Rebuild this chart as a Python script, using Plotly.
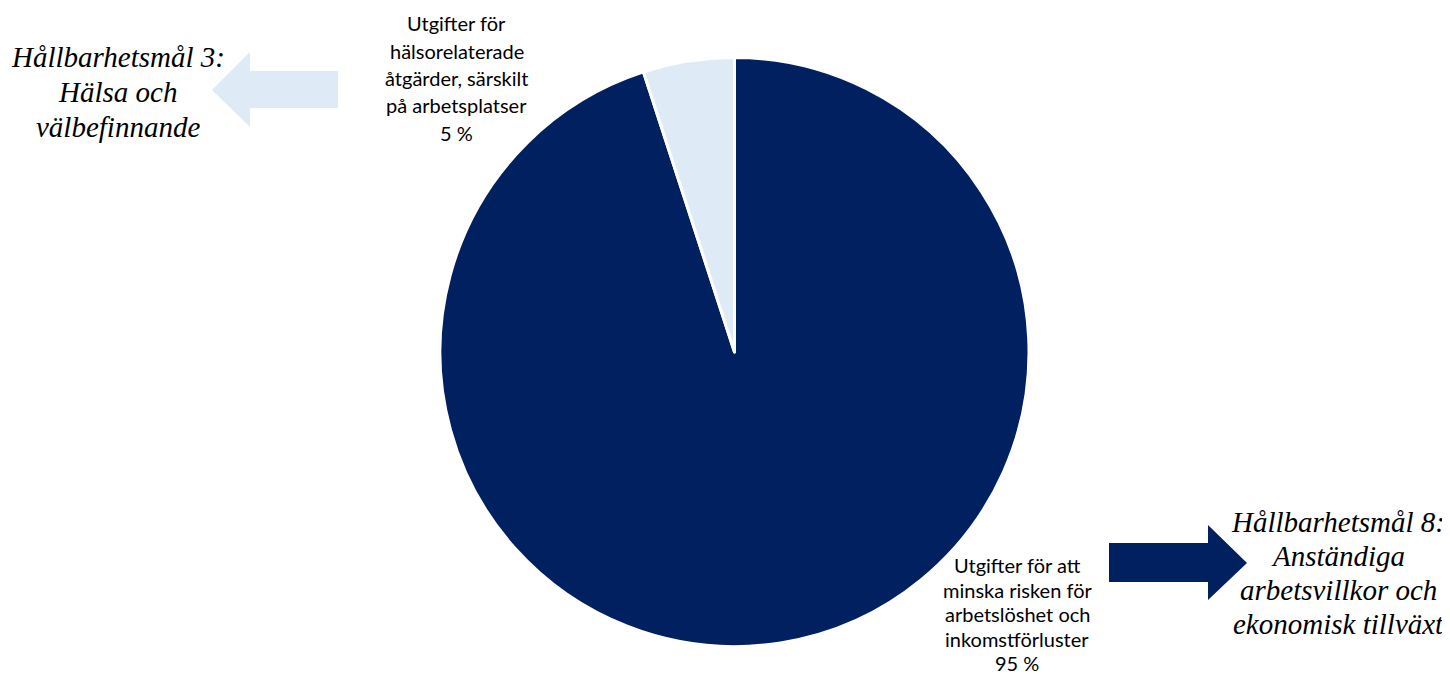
import plotly.graph_objects as go

W, H = 1450, 677
OFF = 8  # default page body margin
FW, FH = W - OFF, H - OFF

# data (navy slice listed first so that, drawn clockwise from 12 o'clock,
# the small light slice ends up just left of 12 o'clock as in the reference)
categories = [
    "Utgifter för att<br>minska risken för<br>arbetslöshet och<br>inkomstförluster",
    "Utgifter för<br>hälsorelaterade<br>åtgärder, särskilt<br>på arbetsplatser",
]
values = [95, 5]
colors = ["#002060", "#DEEAF6"]
goals = [
    "Hållbarhetsmål 8:<br>Anständiga<br>arbetsvillkor och<br>ekonomisk tillväxt",
    "Hållbarhetsmål 3:<br>Hälsa och<br>välbefinnande",
]


def px(x):
    return (x - OFF) / FW


def py(y):
    return 1 - (y - OFF) / FH


fig = go.Figure(
    go.Pie(
        labels=categories,
        values=values,
        sort=False,
        direction="clockwise",
        rotation=0,
        marker=dict(colors=colors, line=dict(color="white", width=3)),
        textinfo="none",
        hoverinfo="label+percent",
        showlegend=False,
        domain=dict(x=[px(440), px(1029)], y=[py(647), py(57)]),
    )
)

label_font = dict(family="Lato, Carlito, Calibri, sans-serif", size=20, color="#000000")
goal_font = dict(family="Liberation Serif, Times New Roman, serif", size=29, color="#000000")

annotations = []


def add_lines(text, xc, y0, step, font, italic=False):
    for i, line in enumerate(text.split("<br>")):
        t = f"<i>{line}</i>" if italic else line
        annotations.append(dict(
            x=px(xc), y=py(y0 + i * step), text=t, font=font,
            xref="paper", yref="paper", showarrow=False,
            xanchor="center", yanchor="middle", align="center",
        ))


# slice labels
add_lines(f"{categories[1]}<br>{values[1]} %", 457, 23, 27.5, label_font)
add_lines(f"{categories[0]}<br>{values[0]} %", 1017, 565, 24.6, label_font)
# goal texts
add_lines(goals[1], 118, 57, 35, goal_font, italic=True)
add_lines(goals[0], 1338, 522, 34, goal_font, italic=True)


def poly(pts):
    return "M " + " L ".join(f"{px(x)},{py(y)}" for x, y in pts) + " Z"


left_arrow = [(212, 90), (250, 52), (250, 71), (338, 71), (338, 108), (250, 108), (250, 127)]
right_arrow = [(1109, 543), (1208, 543), (1208, 525), (1247, 563), (1208, 600), (1208, 582), (1109, 582)]

shapes = [
    dict(type="path", path=poly(left_arrow), xref="paper", yref="paper", fillcolor=colors[1], line=dict(width=0)),
    dict(type="path", path=poly(right_arrow), xref="paper", yref="paper", fillcolor=colors[0], line=dict(width=0)),
]

fig.update_layout(
    width=FW,
    height=FH,
    margin=dict(l=0, r=0, t=0, b=0),
    paper_bgcolor="white",
    plot_bgcolor="white",
    annotations=annotations,
    shapes=shapes,
)

fig.write_html("out.html")
